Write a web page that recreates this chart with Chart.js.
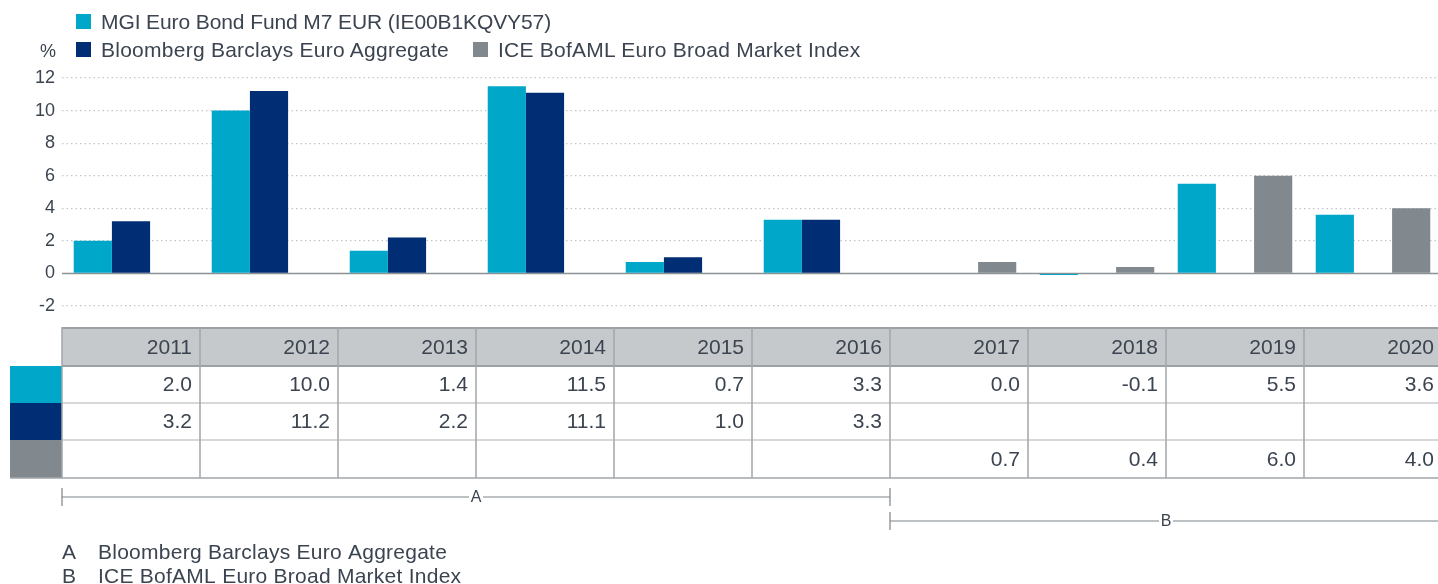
<!DOCTYPE html>
<html>
<head>
<meta charset="utf-8">
<script src="https://cdn.jsdelivr.net/npm/chart.js@4.4.1/dist/chart.umd.min.js"></script>
<style>
  html, body { margin: 0; padding: 0; background: #fff; overflow: hidden; }
  #wrap { position: relative; width: 1438px; height: 584px; overflow: hidden;
          font-family: "Liberation Sans", Arial, sans-serif; color: #3b4450; }
  #chart { position: absolute; left: 0; top: 0; }
  .leg { position: absolute; font-size: 21px; line-height: 22px; white-space: nowrap; letter-spacing: 0.25px; }
  .sw { position: absolute; width: 15px; height: 15px; }
</style>
</head>
<body>
<div id="wrap">
  <canvas id="chart" width="1450" height="584" style="width:1450px;height:584px"></canvas>
  <div class="sw" style="left:76px;top:14px;background:#00a7c9"></div>
  <div class="leg" style="left:101px;top:11px;letter-spacing:-0.1px">MGI Euro Bond Fund M7 EUR (IE00B1KQVY57)</div>
  <div class="leg" style="left:40px;top:40px;font-size:18px">%</div>
  <div class="sw" style="left:76px;top:42px;background:#002d73"></div>
  <div class="leg" style="left:101px;top:39px">Bloomberg Barclays Euro Aggregate</div>
  <div class="sw" style="left:473px;top:42px;background:#81898e"></div>
  <div class="leg" style="left:498px;top:39px">ICE BofAML Euro Broad Market Index</div>
</div>
<script>
const years = ['2011', '2012', '2013', '2014', '2015', '2016', '2017', '2018', '2019', '2020'];
const fundValues = [2.0, 10.0, 1.4, 11.5, 0.7, 3.3, 0.0, -0.1, 5.5, 3.6];
const bloombergValues = [3.2, 11.2, 2.2, 11.1, 1.0, 3.3, null, null, null, null];
const iceValues = [null, null, null, null, null, null, 0.7, 0.4, 6.0, 4.0];
const seriesNames = ['MGI Euro Bond Fund M7 EUR (IE00B1KQVY57)', 'Bloomberg Barclays Euro Aggregate', 'ICE BofAML Euro Broad Market Index'];
const seriesColors = ['#00a7c9', '#002d73', '#81898e'];
const yMin = -2, yMax = 12, yStep = 2;
// benchmark periods: first and last year index
const benchmarkLabels = ['A', 'B'];
const benchmarkFrom = [0, 6];
const benchmarkTo = [5, 9];
const benchmarkNames = ['Bloomberg Barclays Euro Aggregate', 'ICE BofAML Euro Broad Market Index'];

const textColor = '#3b4450';
const font = '"Liberation Sans", Arial, sans-serif';

const zeroLine = {
  id: 'zeroLine',
  beforeDatasetsDraw(chart) {
    const { ctx, chartArea } = chart;
    const y = chart.scales.y.getPixelForValue(0);
    ctx.save();
    ctx.strokeStyle = '#8c9194';
    ctx.lineWidth = 1.5;
    ctx.beginPath();
    ctx.moveTo(chartArea.left, y);
    ctx.lineTo(chartArea.right, y);
    ctx.stroke();
    ctx.restore();
  }
};

const tablePlugin = {
  id: 'table',
  afterDraw(chart) {
    const ctx = chart.ctx;
    const xs = chart.scales.x;
    const cw = (xs.right - xs.left) / years.length;
    const rows = [327, 366, 403, 440, 478];
    const series = [fundValues, bloombergValues, iceValues];
    ctx.save();

    // header
    ctx.fillStyle = '#c6c9cc';
    ctx.fillRect(xs.left, rows[0], xs.right - xs.left, rows[1] - rows[0]);
    ctx.strokeStyle = '#9da1a5';
    ctx.lineWidth = 2;
    ctx.beginPath();
    ctx.moveTo(xs.left, rows[0] + 1); ctx.lineTo(xs.right, rows[0] + 1);
    ctx.moveTo(xs.left, rows[1]); ctx.lineTo(xs.right, rows[1]);
    ctx.stroke();

    // swatches
    for (let s = 0; s < 3; s++) {
      ctx.fillStyle = seriesColors[s];
      ctx.fillRect(10, rows[s + 1], xs.left - 10, rows[s + 2] - rows[s + 1]);
    }

    // row separators
    ctx.strokeStyle = '#c9ccce';
    ctx.lineWidth = 1.5;
    ctx.beginPath();
    for (let r = 2; r < 4; r++) {
      ctx.moveTo(xs.left, rows[r]); ctx.lineTo(xs.right, rows[r]);
    }
    ctx.stroke();
    ctx.strokeStyle = '#a3a7aa';
    ctx.beginPath();
    ctx.moveTo(10, rows[4]); ctx.lineTo(xs.right, rows[4]);
    // column lines
    for (let i = 0; i <= years.length; i++) {
      const x = xs.left + i * cw;
      ctx.moveTo(x, rows[0]); ctx.lineTo(x, rows[4]);
    }
    ctx.stroke();

    // text
    ctx.fillStyle = textColor;
    ctx.font = '21px ' + font;
    ctx.textAlign = 'right';
    ctx.textBaseline = 'middle';
    years.forEach((yr, i) => {
      const xr = xs.left + (i + 1) * cw - 8;
      ctx.fillText(yr, xr, (rows[0] + rows[1]) / 2 + 2);
      series.forEach((vals, s) => {
        const v = vals[i];
        if (v !== null) ctx.fillText(v.toFixed(1), xr, (rows[s + 1] + rows[s + 2]) / 2 + 1);
      });
    });

    // benchmark period brackets
    ctx.strokeStyle = '#7f8488';
    ctx.lineWidth = 1.2;
    ctx.font = '16px ' + font;
    ctx.textAlign = 'center';
    benchmarkLabels.forEach((lab, b) => {
      const x0 = xs.left + benchmarkFrom[b] * cw;
      const x1 = xs.left + (benchmarkTo[b] + 1) * cw;
      const y = 497 + b * 24;
      const xm = (x0 + x1) / 2;
      ctx.beginPath();
      ctx.moveTo(x0, y - 9); ctx.lineTo(x0, y + 9);
      ctx.moveTo(x1, y - 9); ctx.lineTo(x1, y + 9);
      ctx.moveTo(x0, y); ctx.lineTo(xm - 7, y);
      ctx.moveTo(xm + 7, y); ctx.lineTo(x1, y);
      ctx.stroke();
      ctx.fillText(lab, xm, y + 1);
    });

    // footnotes
    ctx.font = '21px ' + font;
    ctx.letterSpacing = '0.25px';
    ctx.textAlign = 'left';
    benchmarkLabels.forEach((lab, b) => {
      const y = 553 + b * 24;
      ctx.fillText(lab, 62, y);
      ctx.fillText(benchmarkNames[b], 98, y);
    });
    ctx.restore();
  }
};

new Chart(document.getElementById('chart'), {
  type: 'bar',
  data: {
    labels: years,
    datasets: [
      { label: seriesNames[0], data: fundValues, backgroundColor: seriesColors[0] },
      { label: seriesNames[1], data: bloombergValues, backgroundColor: seriesColors[1] },
      { label: seriesNames[2], data: iceValues, backgroundColor: seriesColors[2] }
    ]
  },
  options: {
    responsive: false,
    animation: false,
    events: [],
    categoryPercentage: 0.83,
    barPercentage: 1.0,
    layout: { padding: { top: 78, right: 8, bottom: 278, left: 0 } },
    plugins: {
      legend: { display: false },
      tooltip: { enabled: false }
    },
    scales: {
      x: { display: false },
      y: {
        min: yMin,
        max: yMax,
        afterFit: scale => { scale.width = 62; },
        border: { display: false, dash: [1.5, 3] },
        grid: {
          drawTicks: false,
          color: c => c.tick.value === 0 ? 'rgba(0,0,0,0)' : '#c4c7ca',
          lineWidth: 1.2
        },
        ticks: {
          stepSize: yStep,
          padding: 7,
          color: textColor,
          font: { family: font, size: 18 }
        }
      }
    }
  },
  plugins: [zeroLine, tablePlugin]
});
</script>
</body>
</html>
